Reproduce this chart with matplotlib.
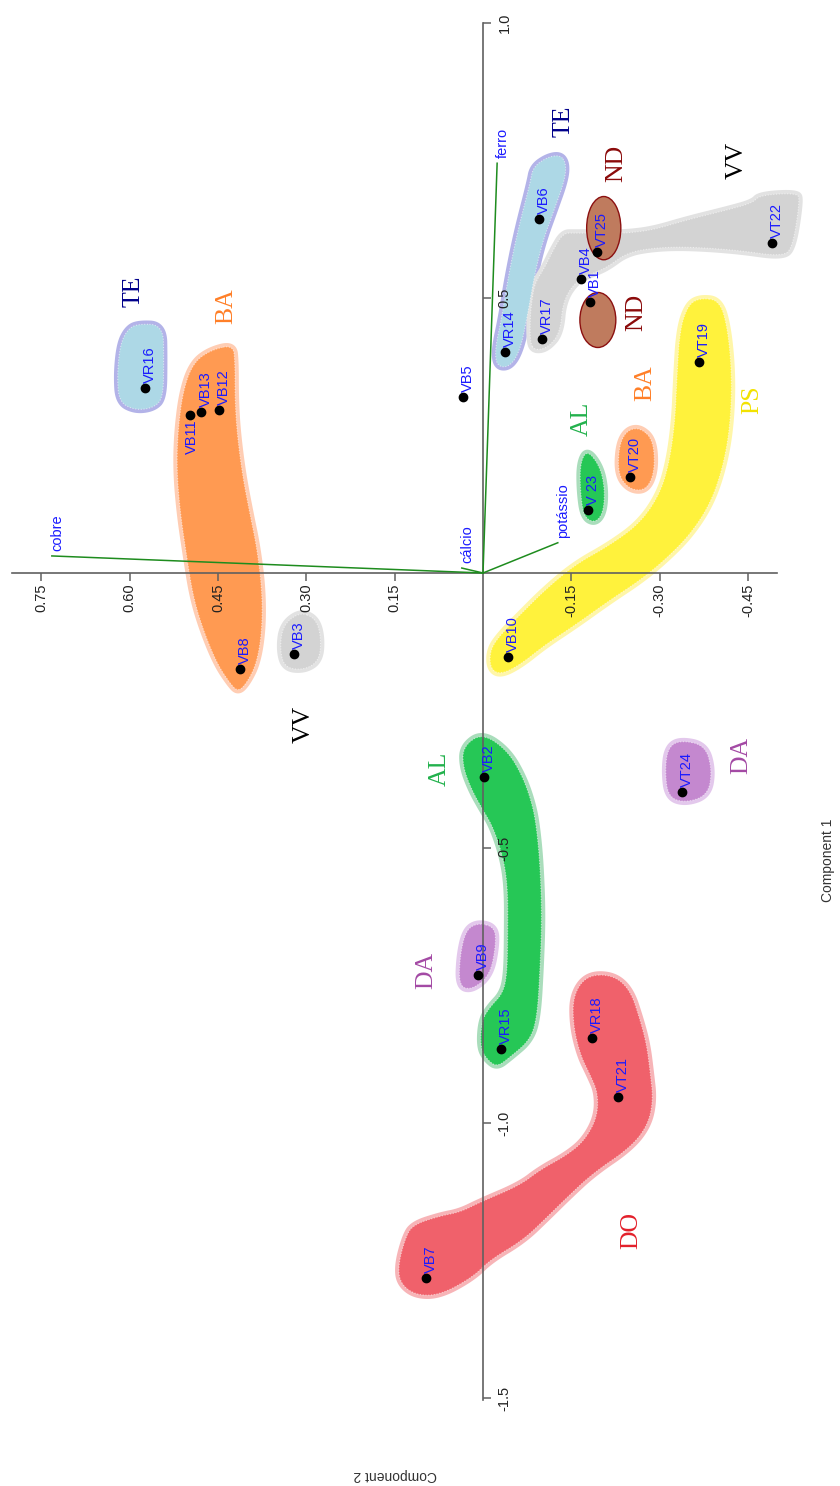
import numpy as np
import matplotlib
matplotlib.use("Agg")
import matplotlib.pyplot as plt
from matplotlib.patches import Polygon, Ellipse

plt.rcParams['font.family'] = ['Liberation Sans', 'DejaVu Sans']

# ---------------- data ----------------
sample_names = ["VR16", "VB11", "VB13", "VB12", "VB8", "VB3", "VB5", "VR14", "VR17",
                "VB6", "VB4", "VT25", "VB1", "VT22", "VT19", "VT20", "V 23", "VB10",
                "VB2", "VT24", "VB9", "VR15", "VR18", "VT21", "VB7"]
comp1 = [0.336, 0.287, 0.293, 0.296, -0.175, -0.147, 0.320, 0.402, 0.425,
         0.644, 0.535, 0.584, 0.493, 0.600, 0.384, 0.175, 0.115, -0.153,
         -0.371, -0.398, -0.731, -0.865, -0.845, -0.953, -1.282]
comp2 = [0.574, 0.497, 0.479, 0.448, 0.413, 0.321, 0.034, -0.037, -0.100,
         -0.095, -0.166, -0.194, -0.182, -0.491, -0.367, -0.250, -0.178, -0.042,
         -0.002, -0.338, 0.008, -0.031, -0.185, -0.229, 0.097]

loading_names = ["ferro", "cobre", "cálcio", "potássio"]
loading_c1 = [0.745, 0.031, 0.009, 0.055]
loading_c2 = [-0.024, 0.732, 0.036, -0.127]

group_labels = ["TE", "BA", "TE", "ND", "VV", "ND", "BA", "AL", "PS", "VV", "AL", "DA", "DA", "DO"]
group_c1 = [0.513, 0.485, 0.822, 0.745, 0.751, 0.473, 0.345, 0.280, 0.315, -0.276, -0.356, -0.331, -0.722, -1.195]
group_c2 = [0.594, 0.436, -0.136, -0.226, -0.431, -0.260, -0.275, -0.168, -0.457, 0.304, 0.073, -0.438, 0.097, -0.251]

xtick_vals = [0.75, 0.60, 0.45, 0.30, 0.15, -0.15, -0.30, -0.45]
xtick_text = ["0.75", "0.60", "0.45", "0.30", "0.15", "-0.15", "-0.30", "-0.45"]
ytick_vals = [1.0, 0.5, -0.5, -1.0, -1.5]
ytick_text = ["1.0", "0.5", "-0.5", "-1.0", "-1.5"]

# group regions (outline vertices as (component 2, component 1))
regions = [
    ("TE", [(0.587, 0.453), (0.543, 0.451), (0.542, 0.387), (0.543, 0.318), (0.560, 0.300),
            (0.591, 0.296), (0.618, 0.311), (0.621, 0.360), (0.616, 0.415), (0.604, 0.442)]),
    ("BA", [(0.424, 0.415), (0.463, 0.405), (0.492, 0.382), (0.509, 0.333), (0.518, 0.260),
            (0.520, 0.187), (0.514, 0.109), (0.503, 0.029), (0.492, -0.044), (0.475, -0.104),
            (0.452, -0.164), (0.430, -0.200), (0.416, -0.216), (0.401, -0.200), (0.384, -0.164),
            (0.375, -0.104), (0.375, -0.031), (0.384, 0.047), (0.396, 0.109), (0.409, 0.182),
            (0.418, 0.260), (0.421, 0.320), (0.421, 0.382)]),
    ("VV", [(0.311, -0.071), (0.285, -0.082), (0.275, -0.113), (0.277, -0.158), (0.302, -0.176),
            (0.336, -0.173), (0.345, -0.140), (0.340, -0.095)]),
    ("TE", [(-0.131, 0.760), (-0.141, 0.745), (-0.139, 0.715), (-0.119, 0.655), (-0.102, 0.605),
            (-0.088, 0.545), (-0.075, 0.465), (-0.063, 0.405), (-0.046, 0.375), (-0.024, 0.375),
            (-0.020, 0.405), (-0.032, 0.465), (-0.042, 0.533), (-0.058, 0.618), (-0.080, 0.709),
            (-0.085, 0.738), (-0.109, 0.756)]),
    ("VV", [(-0.080, 0.418), (-0.088, 0.405), (-0.109, 0.409), (-0.131, 0.436), (-0.136, 0.496),
            (-0.160, 0.533), (-0.187, 0.545), (-0.211, 0.556), (-0.244, 0.582), (-0.289, 0.591),
            (-0.346, 0.593), (-0.431, 0.587), (-0.509, 0.575), (-0.526, 0.593), (-0.538, 0.678),
            (-0.533, 0.691), (-0.470, 0.687), (-0.458, 0.673), (-0.414, 0.660), (-0.346, 0.642),
            (-0.289, 0.624), (-0.244, 0.618), (-0.211, 0.618), (-0.156, 0.618), (-0.136, 0.618),
            (-0.119, 0.587), (-0.105, 0.556), (-0.088, 0.527), (-0.083, 0.496), (-0.080, 0.465)]),
    ("PS", [(-0.368, 0.500), (-0.402, 0.496), (-0.416, 0.442), (-0.423, 0.351), (-0.419, 0.260),
            (-0.406, 0.187), (-0.385, 0.124), (-0.351, 0.069), (-0.309, 0.024), (-0.267, -0.013),
            (-0.216, -0.049), (-0.156, -0.095), (-0.105, -0.131), (-0.063, -0.167), (-0.029, -0.185),
            (-0.012, -0.173), (-0.012, -0.140), (-0.029, -0.113), (-0.063, -0.076), (-0.105, -0.031),
            (-0.156, 0.015), (-0.216, 0.051), (-0.267, 0.091), (-0.301, 0.145), (-0.317, 0.205),
            (-0.326, 0.278), (-0.329, 0.351), (-0.334, 0.442), (-0.348, 0.487)]),
    ("AL", [(-0.177, 0.224), (-0.199, 0.193), (-0.207, 0.151), (-0.204, 0.109), (-0.190, 0.091),
            (-0.171, 0.102), (-0.165, 0.151), (-0.165, 0.200)]),
    ("BA", [(-0.267, 0.264), (-0.289, 0.242), (-0.292, 0.187), (-0.278, 0.151), (-0.250, 0.151),
            (-0.229, 0.178), (-0.231, 0.233), (-0.245, 0.260)]),
    ("AL", [(0.034, -0.316), (0.002, -0.291), (-0.041, -0.322), (-0.068, -0.371), (-0.085, -0.425),
            (-0.092, -0.473), (-0.097, -0.535), (-0.100, -0.625), (-0.097, -0.716), (-0.092, -0.807),
            (-0.080, -0.849), (-0.046, -0.880), (-0.024, -0.898), (-0.007, -0.885), (0.005, -0.862),
            (0.002, -0.813), (-0.012, -0.789), (-0.034, -0.764), (-0.041, -0.727), (-0.042, -0.655),
            (-0.042, -0.571), (-0.034, -0.516), (-0.017, -0.462), (0.000, -0.431), (0.019, -0.395),
            (0.034, -0.353)]),
    ("DA", [(0.008, -0.636), (-0.020, -0.644), (-0.022, -0.676), (-0.012, -0.731), (0.019, -0.758),
            (0.041, -0.751), (0.039, -0.695), (0.029, -0.649)]),
    ("DA", [(-0.334, -0.304), (-0.377, -0.313), (-0.389, -0.358), (-0.382, -0.404), (-0.343, -0.418),
            (-0.314, -0.407), (-0.309, -0.358), (-0.314, -0.318)]),
    ("DO", [(-0.177, -0.731), (-0.221, -0.731), (-0.250, -0.758), (-0.267, -0.813), (-0.278, -0.858),
            (-0.284, -0.909), (-0.289, -0.958), (-0.280, -1.004), (-0.250, -1.045), (-0.187, -1.091),
            (-0.143, -1.135), (-0.109, -1.171), (-0.068, -1.213), (-0.012, -1.249), (0.017, -1.280),
            (0.073, -1.313), (0.115, -1.313), (0.141, -1.291), (0.144, -1.258), (0.132, -1.209),
            (0.119, -1.185), (0.073, -1.169), (0.039, -1.162), (0.005, -1.144), (-0.063, -1.113),
            (-0.097, -1.085), (-0.143, -1.058), (-0.173, -1.031), (-0.194, -0.989), (-0.195, -0.945),
            (-0.182, -0.913), (-0.165, -0.876), (-0.153, -0.822), (-0.153, -0.767)]),
]

# ND ellipses: (c2 centre, c1 centre, c2 extent, c1 extent)
nd_regions = [(-0.205, 0.627, 0.058, 0.115), (-0.195, 0.460, 0.061, 0.100)]

# ---------------- styles ----------------
fill_col = {"TE": "#add8e6", "BA": "#ff9a52", "VV": "#d3d3d3", "AL": "#26c756",
            "PS": "#fff23c", "DA": "#c488cf", "DO": "#f0616b"}
halo_col = {"TE": "#b3b3e8", "BA": "#ffcdb3", "VV": "#e2e2e2", "AL": "#a9ddbb",
            "PS": "#fff6a8", "DA": "#e3c8ec", "DO": "#f7b4b7"}
text_col = {"TE": "#00008b", "BA": "#ff7f27", "ND": "#8b0a0a", "VV": "#000000",
            "AL": "#22b14c", "PS": "#f2e200", "DA": "#a349a4", "DO": "#e3202b"}
labels_below = {"VB11"}


def chaikin(pts, n=4):
    p = np.asarray(pts, float)
    for _ in range(n):
        nxt = np.roll(p, -1, axis=0)
        q = 0.75 * p + 0.25 * nxt
        r = 0.25 * p + 0.75 * nxt
        out = np.empty((2 * len(p), 2))
        out[0::2] = q
        out[1::2] = r
        p = out
    return p


fig = plt.figure(figsize=(8.4, 14.86), dpi=100)
ax = fig.add_axes([0, 0, 1, 1])
ax.set_xlim(0.8200, -0.6061)
ax.set_ylim(-1.660, 1.0418)

for grp, verts in regions:
    sm = chaikin(verts)
    ax.add_patch(Polygon(sm, closed=True, facecolor="none", edgecolor=halo_col[grp],
                         lw=5.5, joinstyle="round", zorder=1))
    ax.add_patch(Polygon(sm, closed=True, facecolor=fill_col[grp], edgecolor="none", zorder=1.1))
    ax.add_patch(Polygon(sm, closed=True, fill=False, edgecolor="white", lw=0.8,
                         linestyle=(0, (1, 1.5)), alpha=0.55, zorder=1.15))

for cx, cy, w, h in nd_regions:
    ax.add_patch(Ellipse((cx, cy), w, h, facecolor="#bf7b5e", edgecolor="#8b1010",
                         lw=1.0, zorder=1.3))

# axes through origin
for s in ["top", "left"]:
    ax.spines[s].set_visible(False)
ax.spines["bottom"].set_position(("data", 0))
ax.spines["right"].set_position(("data", 0))
ax.spines["bottom"].set_bounds(-0.499, 0.800)
ax.spines["right"].set_bounds(-1.504, 1.0)
for s in ["bottom", "right"]:
    ax.spines[s].set_color("#606060")
    ax.spines[s].set_linewidth(1.2)
    ax.spines[s].set_zorder(2)
ax.xaxis.set_ticks_position("bottom")
ax.yaxis.set_ticks_position("right")
ax.set_xticks(xtick_vals)
ax.set_xticklabels(xtick_text, rotation=90)
ax.set_yticks(ytick_vals)
ax.set_yticklabels(ytick_text, rotation=90, va="center")
ax.tick_params(axis="x", length=5.5, width=1.1, color="#606060", labelsize=10.5,
               pad=2, labelcolor="#222222")
ax.tick_params(axis="y", length=5.5, width=1.1, color="#606060", labelsize=10.5,
               pad=5, labelcolor="#222222")
ax.patch.set_visible(False)

# loadings
for name, l1, l2 in zip(loading_names, loading_c1, loading_c2):
    ax.plot([0, l2], [0, l1], color="#1e8c1e", lw=1.1, zorder=2.2)
    ax.annotate(name, (l2, l1), xytext=(4, 3.5), textcoords="offset points",
                rotation=90, rotation_mode="anchor", ha="left", va="center",
                color="#1a1aff", fontsize=10.5, zorder=4)

# samples
ax.plot(comp2, comp1, "o", color="black", markersize=6, zorder=3, linestyle="none")
for name, c1, c2 in zip(sample_names, comp1, comp2):
    if name in labels_below:
        ax.annotate(name, (c2, c1), xytext=(1.5, -3), textcoords="offset points",
                    rotation=90, rotation_mode="anchor", ha="right", va="center",
                    color="#1a1aff", fontsize=10.5, zorder=4)
    else:
        ax.annotate(name, (c2, c1), xytext=(3.5, 3.5), textcoords="offset points",
                    rotation=90, rotation_mode="anchor", ha="left", va="center",
                    color="#1a1aff", fontsize=10.5, zorder=4)

# group names
for g, c1, c2 in zip(group_labels, group_c1, group_c2):
    ax.text(c2, c1, g, rotation=90, ha="center", va="center", color=text_col[g],
            fontsize=18.5, family=["Liberation Serif", "DejaVu Serif"], zorder=4)

fig.text(828 / 840, 1 - 860 / 1486, "Component 1", rotation=90, ha="center", va="center",
         fontsize=10, color="#333333")
fig.text(395 / 840, 1 - 1475 / 1486, "Component 2", rotation=180, ha="center", va="center",
         fontsize=10, color="#333333")

fig.savefig("out.png", dpi=100)
